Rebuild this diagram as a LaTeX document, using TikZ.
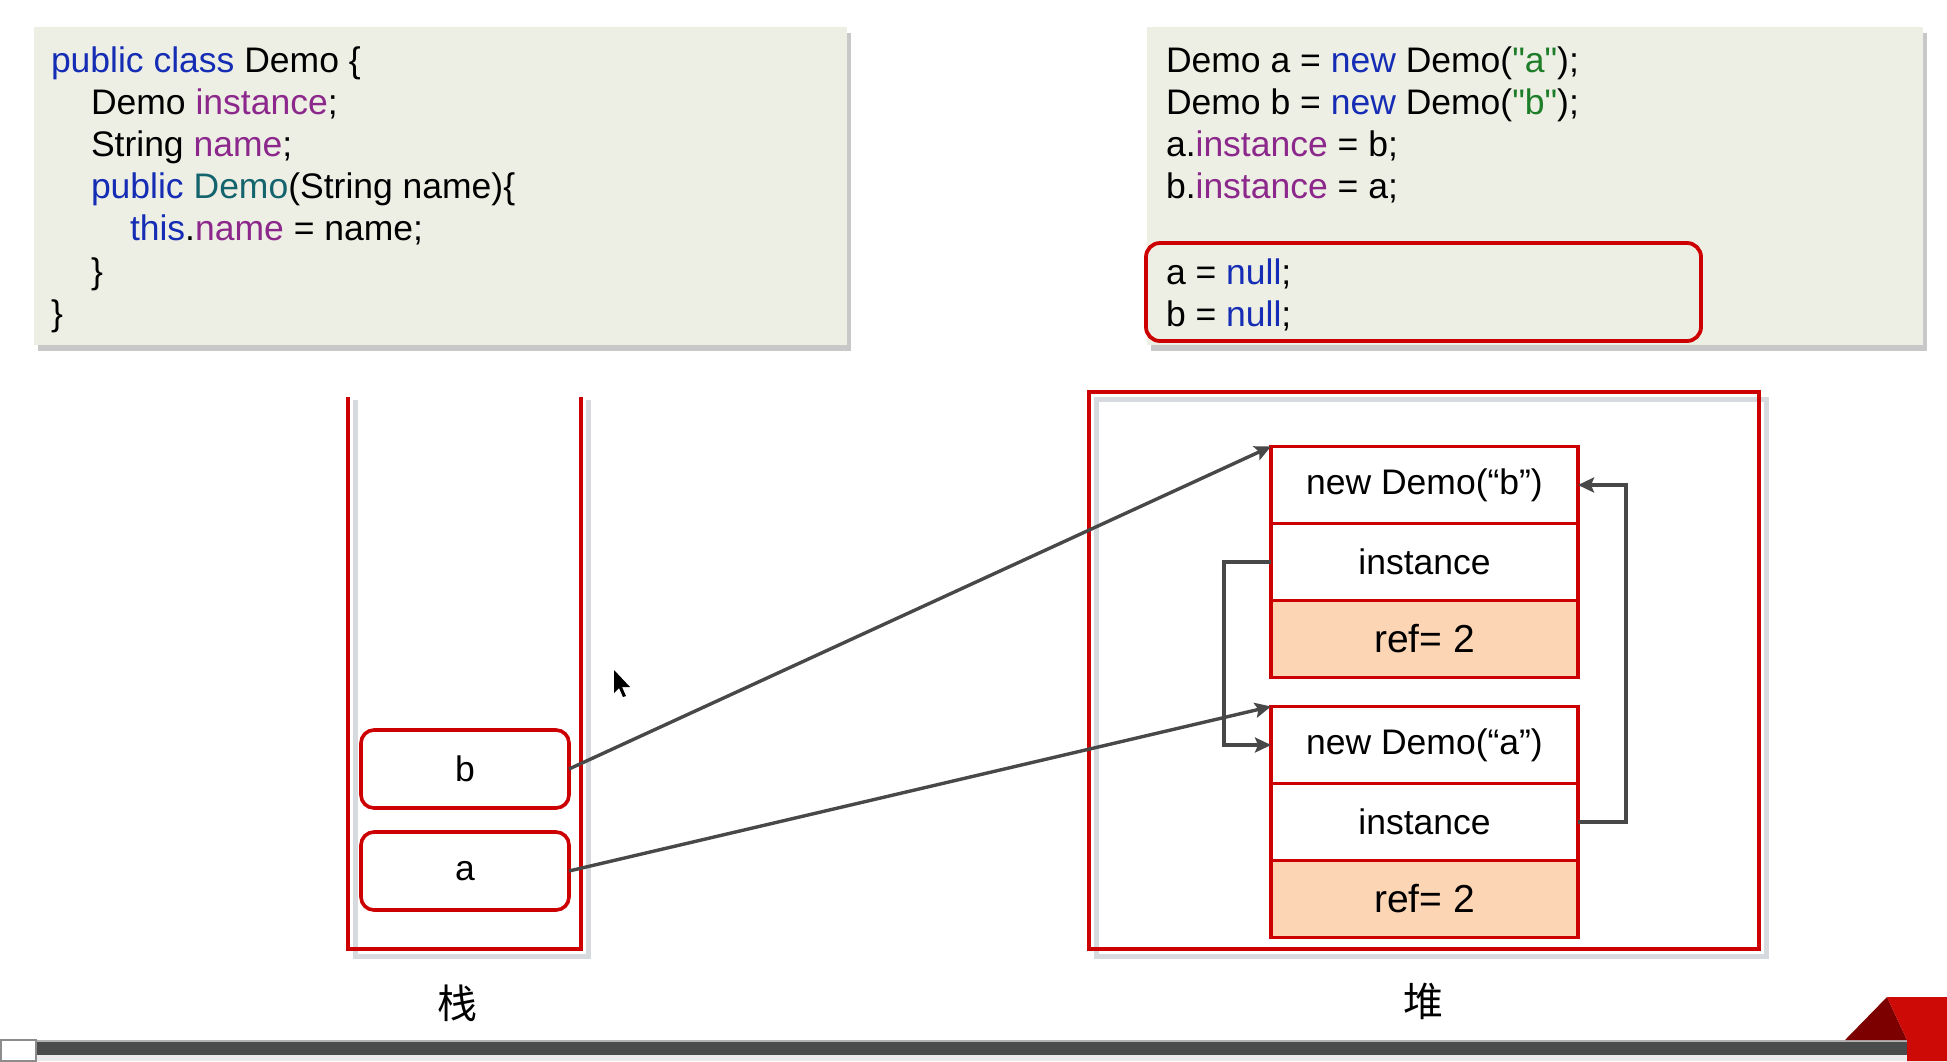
\documentclass[tikz,border=0pt]{standalone}
\usepackage{fontspec}
\newfontfamily\arial{Liberation Sans}
\newfontfamily\cjk{Noto Sans CJK SC}
\usetikzlibrary{arrows.meta,shadows}

\definecolor{boxred}{RGB}{204,0,0}
\definecolor{codebg}{RGB}{238,239,228}
\definecolor{refbg}{RGB}{252,213,181}
\definecolor{kwblue}{RGB}{20,45,180}
\definecolor{fldpurple}{RGB}{140,40,140}
\definecolor{ctorteal}{RGB}{20,100,110}
\definecolor{strgreen}{RGB}{30,125,40}
\definecolor{linkgray}{RGB}{72,72,72}
\definecolor{shadowgray}{RGB}{214,218,222}
\definecolor{bargray}{RGB}{74,76,76}
\definecolor{flagdark}{RGB}{125,0,0}
\definecolor{flaglight}{RGB}{205,10,5}

\newcommand\kw[1]{\textcolor{kwblue}{#1}}
\newcommand\fld[1]{\textcolor{fldpurple}{#1}}
\newcommand\ctor[1]{\textcolor{ctorteal}{#1}}
\newcommand\strlit[1]{\textcolor{strgreen}{#1}}

\tikzset{
  codebox/.style={rectangle, fill=codebg, inner sep=0pt, outer sep=0pt,
    drop shadow={shadow xshift=2pt, shadow yshift=-3pt, opacity=0.3, fill=black!70}},
  codeline/.style={anchor=base west, inner sep=0pt, outer sep=0pt,
    font=\arial\fontsize{17.75}{21}\selectfont},
  nullbox/.style={rectangle, draw=boxred, line width=1.9pt, rounded corners=7pt,
    inner sep=0pt, outer sep=0pt},
  region/.style={rectangle, draw=boxred, line width=2pt, inner sep=0pt, outer sep=0pt},
  regionshade/.style={draw=shadowgray, line width=2.5pt},
  varbox/.style={rectangle, draw=boxred, line width=1.8pt, rounded corners=6.5pt, fill=white,
    minimum width=104pt, minimum height=39pt, inner sep=0pt, outer sep=0pt,
    font=\arial\fontsize{17.75}{21}\selectfont},
  cell/.style={rectangle, draw=boxred, line width=1.8pt, fill=white,
    minimum width=153.5pt, minimum height=38.5pt, inner sep=0pt, outer sep=0pt,
    font=\arial\fontsize{17.75}{21}\selectfont},
  refcell/.style={cell, fill=refbg, font=\arial\fontsize{19.5}{23}\selectfont},
  link/.style={draw=linkgray, line width=1.7pt,
    -{Stealth[length=8pt, width=7.5pt, inset=1.5pt]}},
  areatitle/.style={font=\cjk\fontsize{20}{24}\selectfont, inner sep=0pt}
}

\begin{document}
\begin{tikzpicture}[x=0.5pt, y=-0.5pt]
\useasboundingbox (0,0) rectangle (1947,1061);
\fill[white] (0,0) rectangle (1947,1061);

% class declaration panel
\node[codebox, minimum width=406.5pt, minimum height=159pt] (decl) at (440.5,186) {};
\node[codeline] (c1) at (51,72)  {\kw{public class} Demo \{};
\node[codeline] (c2) at (91,114) {Demo \fld{instance};};
\node[codeline] (c3) at (91,156) {String \fld{name};};
\node[codeline] (c4) at (91,198) {\kw{public} \ctor{Demo}(String name)\{};
\node[codeline] (c5) at (130,240) {\kw{this}.\fld{name} = name;};
\node[codeline] (c6) at (91,283) {\}};
\node[codeline] (c7) at (51,325) {\}};

% usage panel
\node[codebox, minimum width=388pt, minimum height=159pt] (usage) at (1535,186) {};
\node[codeline] (d1) at (1166,72)  {Demo a = \kw{new} Demo(\strlit{"a"});};
\node[codeline] (d2) at (1166,114) {Demo b = \kw{new} Demo(\strlit{"b"});};
\node[codeline] (d3) at (1166,156) {a.\fld{instance} = b;};
\node[codeline] (d4) at (1166,198) {b.\fld{instance} = a;};
\node[nullbox, minimum width=277.5pt, minimum height=49pt] (nulls) at (1423.5,292) {};
\node[codeline] (d5) at (1166,284) {a = \kw{null};};
\node[codeline] (d6) at (1166,326) {b = \kw{null};};

% stack (open at the top)
\draw[regionshade] (355,400) -- (355,956) -- (588,956) -- (588,400);
\draw[boxred, line width=2pt] (348,397) -- (348,949) -- (581,949) -- (581,397);
\node[varbox] (sb) at (465,769) {b};
\node[varbox] (sa) at (465,871) {a};
\node[areatitle] (stacklabel) at (457,1003) {栈};

% heap
\draw[regionshade] (1096,399) rectangle (1766,956);
\node[region, minimum width=335pt, minimum height=278.5pt] (heap) at (1424,670.5) {};
\node[areatitle] (heaplabel) at (1423,1001) {堆};

% object b
\node[cell] (ob1) at (1424.5,485) {new Demo(“b”)};
\node[cell] (ob2) at (1424.5,562) {instance};
\node[refcell] (ob3) at (1424.5,639) {ref= 2};
% object a
\node[cell] (oa1) at (1424.5,745) {new Demo(“a”)};
\node[cell] (oa2) at (1424.5,822) {instance};
\node[refcell] (oa3) at (1424.5,899) {ref= 2};

% references
\draw[link] (sb.east) -- (ob1.north west);
\draw[link] (sa.east) -- (oa1.north west);
\draw[link] (ob2.west) -- ++(-47,0) |- (oa1.west);
\draw[link] (oa2.east) -- ++(48,0) |- (ob1.east);

% pointer
\fill[black] (614,670) -- (614,693) -- (619,688) -- (623,697) -- (626,696) -- (622,687) -- (630,687) -- cycle;

% bottom bar
\fill[black!8] (0,1055) rectangle (1947,1061);
\fill[bargray] (37,1040) rectangle (1947,1055);
\draw[black!30, line width=1pt] (37,1040.5) -- (1947,1040.5);
\filldraw[fill=white, draw=black!45, line width=0.8pt] (1,1040) rectangle (36,1061);
\fill[flagdark] (1845,1040) -- (1887,997) -- (1907,1040) -- cycle;
\fill[flaglight] (1887,997) -- (1947,997) -- (1947,1061) -- (1907,1061) -- (1907,1040) -- cycle;
\end{tikzpicture}
\end{document}
